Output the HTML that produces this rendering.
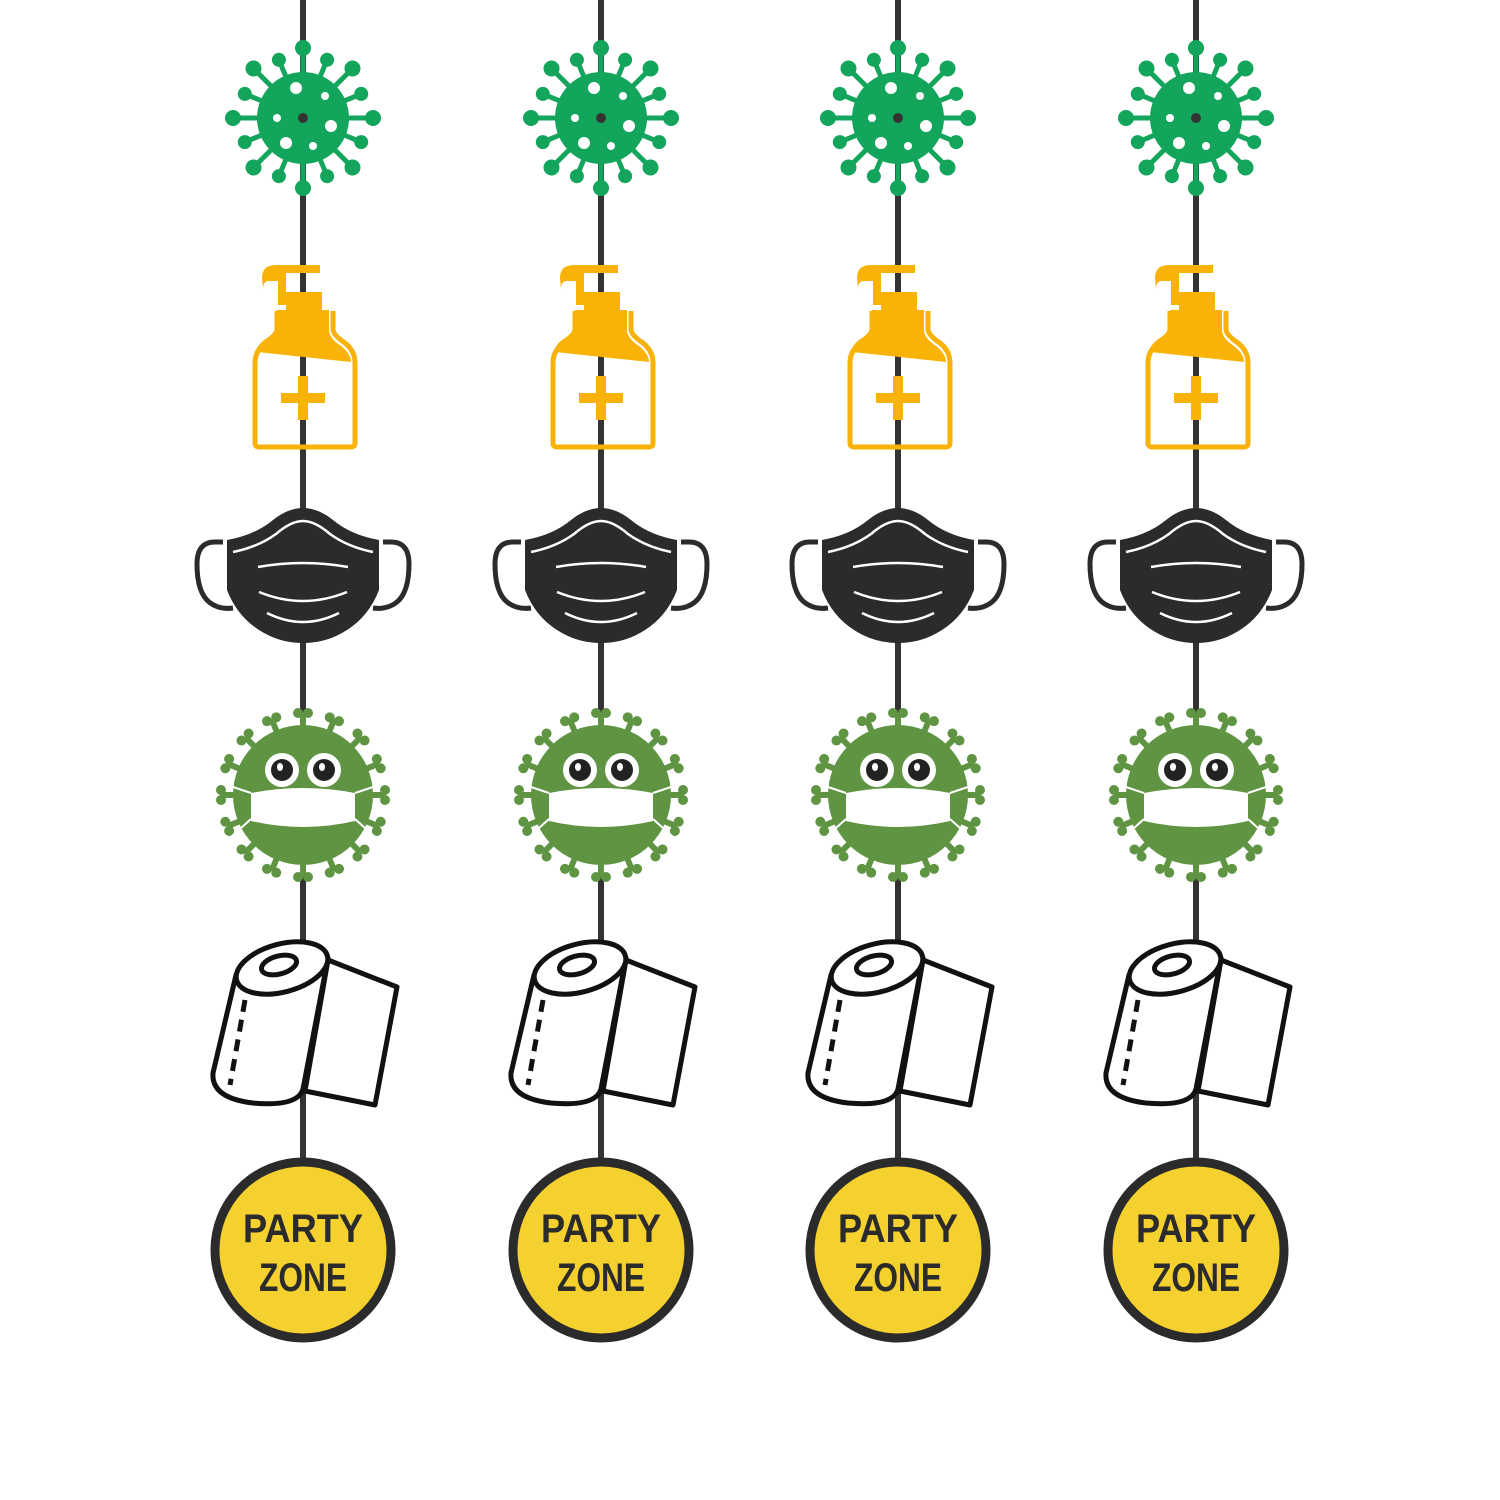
<!DOCTYPE html>
<html><head><meta charset="utf-8"><style>html,body{margin:0;padding:0;background:#fff}svg{display:block}</style></head>
<body>
<svg width="1500" height="1500" viewBox="0 0 1500 1500" xmlns="http://www.w3.org/2000/svg">
<defs>
  <g id="sp1"><rect x="-2.5" y="-70" width="5" height="30" fill="#12a55b"/><circle cx="0" cy="-70" r="8" fill="#12a55b"/></g>
  <g id="sp1s"><rect x="-2.5" y="-63" width="5" height="23" fill="#12a55b"/><circle cx="0" cy="-63" r="7" fill="#12a55b"/></g>
  <g id="v1">
    <use href="#sp1" transform="rotate(0)"/><use href="#sp1s" transform="rotate(22.5)"/>
    <use href="#sp1" transform="rotate(45)"/><use href="#sp1s" transform="rotate(67.5)"/>
    <use href="#sp1" transform="rotate(90)"/><use href="#sp1s" transform="rotate(112.5)"/>
    <use href="#sp1" transform="rotate(135)"/><use href="#sp1s" transform="rotate(157.5)"/>
    <use href="#sp1" transform="rotate(180)"/><use href="#sp1s" transform="rotate(202.5)"/>
    <use href="#sp1" transform="rotate(225)"/><use href="#sp1s" transform="rotate(247.5)"/>
    <use href="#sp1" transform="rotate(270)"/><use href="#sp1s" transform="rotate(292.5)"/>
    <use href="#sp1" transform="rotate(315)"/><use href="#sp1s" transform="rotate(337.5)"/>
    <circle r="46" fill="#12a55b"/>
    <circle cx="-7" cy="-30" r="6" fill="#fff"/><circle cx="22" cy="-22" r="4" fill="#fff"/>
    <circle cx="-26" cy="0" r="4" fill="#fff"/><circle cx="0" cy="0" r="5" fill="#333"/>
    <circle cx="28" cy="8" r="6" fill="#fff"/><circle cx="-17" cy="25" r="6" fill="#fff"/><circle cx="10" cy="28" r="4" fill="#fff"/>
  </g>
  <g id="bottle" fill="#f9b208">
    <path d="M-41 -120 q0 -13 14 -13 h44 v8 h-34 v32 h-8 v-24 h-9 q-6 0 -6 8 z"/>
    <rect x="-17" y="-106" width="36" height="20"/>
    <path d="M-26 -88 h52 v20 q0 8 12 16 q10 8 10 16 l-94 -10 q0 -8 10 -14 q10 -7 10 -14z"/>
    <path d="M-26 -87 v18 q0 6 -12 14 q-10 8 -10 20 v80 q0 4 4 4 h92 q4 0 4 -4 v-80 q0 -12 -10 -20 q-12 -8 -12 -14 v-18" fill="none" stroke="#f9b208" stroke-width="5"/>
    <rect x="-5" y="-22" width="10" height="44"/><rect x="-22" y="-5" width="44" height="10"/>
  </g>
  <g id="mask">
    <path d="M-80 -4 h-8 q-18 0 -18 22 q0 28 12 38 q10 8 24 6" fill="none" stroke="#2b2b2b" stroke-width="5"/>
    <path d="M80 -4 h8 q18 0 18 22 q0 28 -12 38 q-10 8 -24 6" fill="none" stroke="#2b2b2b" stroke-width="5"/>
    <path d="M-76 -6 q28 -5 46 -20 q15 -12 30 -12 q15 0 30 12 q18 15 46 20 v50 q-10 26 -32 40 q-20 13 -44 13 q-24 0 -44 -13 q-22 -14 -32 -40z" fill="#2b2b2b"/>
    <g fill="none" stroke="#fff" stroke-width="2.5">
      <path d="M-70 6 q25 -5 43 -18 q15 -13 27 -13 q12 0 27 13 q18 13 43 18"/>
      <path d="M-45 21 q45 -8 90 0"/>
      <path d="M-44 46 q44 18 88 0"/>
      <path d="M-36 67 q36 18 72 0"/>
    </g>
  </g>
  <g id="sp2"><rect x="-3" y="-82" width="6" height="16" fill="#5f9442"/><circle cx="-5" cy="-82" r="5" fill="#5f9442"/><circle cx="5" cy="-82" r="5" fill="#5f9442"/></g>
  <g id="v2">
    <use href="#sp2" transform="rotate(0)"/><use href="#sp2" transform="rotate(22.5)"/>
    <use href="#sp2" transform="rotate(45)"/><use href="#sp2" transform="rotate(67.5)"/>
    <use href="#sp2" transform="rotate(90)"/><use href="#sp2" transform="rotate(112.5)"/>
    <use href="#sp2" transform="rotate(135)"/><use href="#sp2" transform="rotate(157.5)"/>
    <use href="#sp2" transform="rotate(180)"/><use href="#sp2" transform="rotate(202.5)"/>
    <use href="#sp2" transform="rotate(225)"/><use href="#sp2" transform="rotate(247.5)"/>
    <use href="#sp2" transform="rotate(270)"/><use href="#sp2" transform="rotate(292.5)"/>
    <use href="#sp2" transform="rotate(315)"/><use href="#sp2" transform="rotate(337.5)"/>
    <circle r="70" fill="#5f9442"/>
    <circle cx="-21" cy="-25" r="17" fill="#fff"/><circle cx="21" cy="-25" r="17" fill="#fff"/>
    <circle cx="-21" cy="-25" r="11" fill="#222"/><circle cx="21" cy="-25" r="11" fill="#222"/>
    <ellipse cx="-23" cy="-28" rx="3" ry="4" fill="#fff"/><ellipse cx="19" cy="-28" rx="3" ry="4" fill="#fff"/>
    <path d="M-52 -2 q52 -10 104 0 v28 q-52 12 -104 0z" fill="#fff"/>
    <g stroke="#fff" stroke-width="2" fill="none"><path d="M-52 -2 l-24 -8 M52 -2 l24 -8 M-52 24 l-20 18 M52 24 l20 18"/></g>
  </g>
  <g id="roll" fill="#fff" stroke="#111" stroke-width="5" stroke-linejoin="round">
    <path d="M25 -43 L94 -16 L72 102 L2 88z"/>
    <path d="M-67 -28 L-90 70 q-2 25 40 30 q45 4 50 -14 L25 -45z"/>
    <ellipse cx="-21" cy="-35" rx="47" ry="24" transform="rotate(-15 -21 -35)"/>
    <ellipse cx="-24" cy="-38" rx="18" ry="9" transform="rotate(-15 -24 -38)"/>
    <path d="M-58 -3 l-15 85" stroke-dasharray="12 8"/>
  </g>
</defs>

<g stroke="#333" stroke-width="6">
  <line x1="303" y1="0" x2="303" y2="1165"/><line x1="601" y1="0" x2="601" y2="1165"/>
  <line x1="898" y1="0" x2="898" y2="1165"/><line x1="1196" y1="0" x2="1196" y2="1165"/>
</g>

<g transform="translate(303,0)">
  <use href="#v1" transform="translate(0,118)"/><use href="#bottle" transform="translate(0,398)"/>
  <use href="#mask" transform="translate(0,546)"/><use href="#v2" transform="translate(0,795)"/>
  <use href="#roll" transform="translate(0,1003)"/>
</g>
<g transform="translate(601,0)">
  <use href="#v1" transform="translate(0,118)"/><use href="#bottle" transform="translate(0,398)"/>
  <use href="#mask" transform="translate(0,546)"/><use href="#v2" transform="translate(0,795)"/>
  <use href="#roll" transform="translate(0,1003)"/>
</g>
<g transform="translate(898,0)">
  <use href="#v1" transform="translate(0,118)"/><use href="#bottle" transform="translate(0,398)"/>
  <use href="#mask" transform="translate(0,546)"/><use href="#v2" transform="translate(0,795)"/>
  <use href="#roll" transform="translate(0,1003)"/>
</g>
<g transform="translate(1196,0)">
  <use href="#v1" transform="translate(0,118)"/><use href="#bottle" transform="translate(0,398)"/>
  <use href="#mask" transform="translate(0,546)"/><use href="#v2" transform="translate(0,795)"/>
  <use href="#roll" transform="translate(0,1003)"/>
</g>

<g fill="#f5d130" stroke="#2b2b2b" stroke-width="9">
  <circle cx="303" cy="1250" r="88"/><circle cx="601" cy="1250" r="88"/>
  <circle cx="898" cy="1250" r="88"/><circle cx="1196" cy="1250" r="88"/>
</g>
<g font-family="Liberation Sans, sans-serif" font-weight="bold" font-size="40" fill="#2b2b2b" text-anchor="middle">
  <text x="303" y="1242" textLength="120" lengthAdjust="spacingAndGlyphs">PARTY</text>
  <text x="303" y="1291" textLength="88" lengthAdjust="spacingAndGlyphs">ZONE</text>
  <text x="601" y="1242" textLength="120" lengthAdjust="spacingAndGlyphs">PARTY</text>
  <text x="601" y="1291" textLength="88" lengthAdjust="spacingAndGlyphs">ZONE</text>
  <text x="898" y="1242" textLength="120" lengthAdjust="spacingAndGlyphs">PARTY</text>
  <text x="898" y="1291" textLength="88" lengthAdjust="spacingAndGlyphs">ZONE</text>
  <text x="1196" y="1242" textLength="120" lengthAdjust="spacingAndGlyphs">PARTY</text>
  <text x="1196" y="1291" textLength="88" lengthAdjust="spacingAndGlyphs">ZONE</text>
</g>
</svg>
</body></html>
